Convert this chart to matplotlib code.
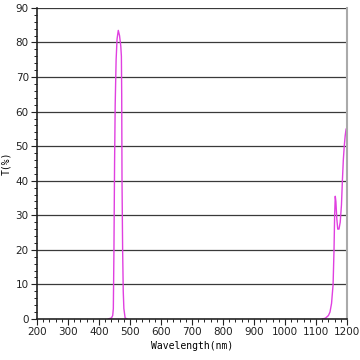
import matplotlib
matplotlib.use("Agg")
import matplotlib.pyplot as plt
from matplotlib.ticker import MultipleLocator

# transmission spectrum, blue band and IR edge
blue_wl = [430, 440, 444, 446, 448, 450, 452, 455, 458, 462, 466, 470,
           472, 473, 474, 476, 478, 480, 484, 490]
blue_t = [0, 0.3, 1, 3, 20, 45, 62, 75, 81, 83.5, 82, 79,
          76, 65, 40, 20, 8, 3, 0.3, 0]
ir_wl = [1120, 1130, 1140, 1145, 1150, 1155, 1158, 1160, 1162, 1164, 1167,
         1170, 1174, 1178, 1182, 1185, 1188, 1191, 1194, 1197, 1200]
ir_t = [0, 0.2, 1, 2, 4.5, 10, 20, 30, 35.5, 34, 29,
        26, 26, 28, 33, 40, 46, 50, 53, 55, 55]

fig = plt.figure(figsize=(3.6, 3.6), dpi=100)
ax = fig.add_axes([0.103, 0.114, 0.861, 0.864])

for v in range(10, 91, 10):
    ax.axhline(v, color="#3a3a3a", lw=0.9, zorder=1)

for wl, t in ((blue_wl, blue_t), (ir_wl, ir_t)):
    ax.plot(wl, t, color="#e040e0", lw=1.0, zorder=2)

ax.set_xlim(200, 1200)
ax.set_ylim(0, 90)
ax.xaxis.set_major_locator(MultipleLocator(100))
ax.xaxis.set_minor_locator(MultipleLocator(20))
ax.yaxis.set_major_locator(MultipleLocator(10))
ax.yaxis.set_minor_locator(MultipleLocator(2))
ax.tick_params(which="major", length=4, width=0.8, labelsize=7.5, pad=2,
               colors="#222222")
ax.tick_params(which="minor", length=2, width=0.7, colors="#222222")

ax.spines["top"].set_visible(False)
ax.spines["right"].set_color("#aaaaaa")
ax.spines["right"].set_linewidth(1.5)
for s in ("left", "bottom"):
    ax.spines[s].set_color("#222222")
    ax.spines[s].set_linewidth(1.2)
    ax.spines[s].set_zorder(3)

ax.set_xlabel("Wavelength(nm)", family="DejaVu Sans Mono", fontsize=7, labelpad=3)
ax.set_ylabel("T(%)", family="DejaVu Sans Mono", fontsize=7, labelpad=3)

fig.savefig("out.png", dpi=100)
